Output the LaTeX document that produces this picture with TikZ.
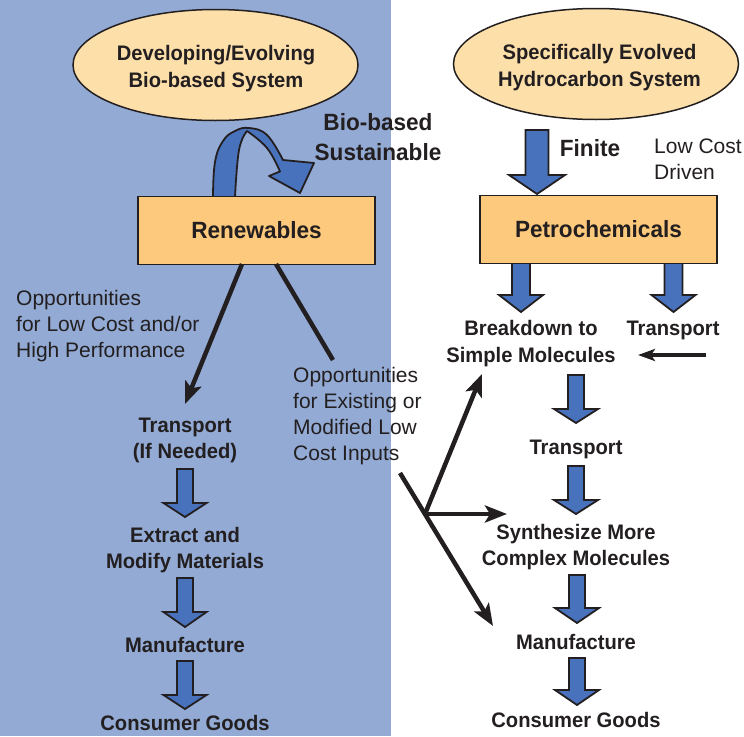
\documentclass[tikz,border=0pt]{standalone}
\usepackage{fontspec}
\setmainfont{Liberation Sans}
\newfontfamily\condf[FakeStretch=0.96]{Liberation Sans}
\usetikzlibrary{arrows.meta,shapes.geometric}
\definecolor{bgblue}{RGB}{146,170,212}
\definecolor{arrowblue}{RGB}{72,114,188}
\definecolor{boxfill}{RGB}{253,201,124}
\definecolor{peach}{RGB}{253,223,170}
\definecolor{ink}{RGB}{35,31,32}
\newcommand\blkarrow[6]{\filldraw[blk] (#1-#5,#2) -- (#1+#5,#2) -- (#1+#5,#3) -- (#1+#6,#3) -- (#1,#4) -- (#1-#6,#3) -- (#1-#5,#3) -- cycle;}
\begin{document}
\begin{tikzpicture}[x=1pt,y=-1pt,
  bt/.style={font=\condf\bfseries\fontsize{21}{26.5}\selectfont, text=ink, align=center, inner sep=0pt},
  bbig/.style={font=\condf\bfseries\fontsize{23.5}{30}\selectfont, text=ink, align=center, inner sep=0pt},
  rt/.style={font=\fontsize{21}{26}\selectfont, text=ink, align=left, inner sep=0pt, anchor=west},
  ell/.style={ellipse, draw=ink, line width=1.5pt, fill=peach, minimum width=285pt, minimum height=111pt, inner sep=0pt},
  boxn/.style={draw=ink, line width=1.8pt, fill=boxfill, minimum width=237pt, minimum height=68pt, inner sep=0pt, text=ink, font=\condf\bfseries\fontsize{23.5}{28}\selectfont},
  blk/.style={fill=arrowblue, draw=ink, line width=1.8pt, line join=miter},
  arr/.style={draw=ink, line width=4.5pt, -{Stealth[length=22pt,width=17pt,inset=5pt]}},
  plain/.style={draw=ink, line width=4.5pt},
  arrs/.style={draw=ink, line width=3.5pt, -{Stealth[length=17pt,width=12pt,inset=4pt]}}]
\useasboundingbox (0,0) rectangle (744,736);
\fill[bgblue] (0,0) rectangle (391,736);

% ellipses
\node[ell] (e1) at (215.5,65) {};
\node[bt] (e1t) at (216,68.5) {Developing/Evolving\\Bio-based System};
\node[ell] (e2) at (596,64) {};
\node[bt] (e2t) at (599.5,67.5) {Specifically Evolved\\Hydrocarbon System};

% curved arrow
\filldraw[blk, line join=round] plot[smooth, tension=0.7] coordinates {(213,197) (215,162) (223,141) (235,131) (249,128) (267,135) (283,160)}
  -- (314,163) -- (300,193) -- (269,176) -- (280,171.5)
  -- plot[smooth, tension=0.7] coordinates {(280,171.5) (267,148) (247,131)}
  -- plot[smooth, tension=0.7] coordinates {(247,131) (239,150) (235,197)} -- cycle;
\node[bbig] (bio) at (378,136.6) {Bio-based\\Sustainable};

% finite arrow
\blkarrow{537}{130}{175}{194}{11.5}{28}
\node[bbig] (fin) at (590,148) {Finite};
\node[rt] (lcd) at (654,158.8) {Low Cost\\Driven};

% petro down arrows
\blkarrow{521}{258}{295}{312}{9}{22}
\blkarrow{673.5}{258}{295}{312}{9}{22}

% boxes
\node[boxn] (ren) at (256.5,230.5) {Renewables};
\node[boxn] (pet) at (598.5,229.5) {Petrochemicals};

% left texts
\node[rt] (opp1) at (16,326) {Opportunities\\for Low Cost and/or\\High Performance};
\node[rt] (opp2) at (293,416.4) {Opportunities\\for Existing or\\Modified Low\\Cost Inputs};

% left column
\node[bt] (ltr) at (185,440.5) {Transport\\(If Needed)};
\node[bt] (lex) at (185,550) {Extract and\\Modify Materials};
\node[bt] (lma) at (185,645) {Manufacture};
\node[bt] (lcg) at (185,723) {Consumer Goods};
\blkarrow{185}{469}{503}{517}{8}{21.5}
\blkarrow{185}{578}{612}{627}{8}{21.5}
\blkarrow{185}{661}{695}{709}{8}{21.5}

% right column
\node[bt] (brk) at (531,343.5) {Breakdown to\\Simple Molecules};
\node[bt] (rtr0) at (673,330) {Transport};
\node[bt] (rtr) at (576,449) {Transport};
\node[bt] (syn) at (576,547) {Synthesize More\\Complex Molecules};
\node[bt] (rma) at (576,642) {Manufacture};
\node[bt] (rcg) at (576,720) {Consumer Goods};
\blkarrow{576}{375}{409}{423}{8}{22}
\blkarrow{576}{466}{500}{514}{8}{22}
\blkarrow{577}{575}{608}{623}{8}{22}
\blkarrow{577}{658}{690}{705}{8}{22}

% black connectors
\coordinate (r1) at (242,264);
\coordinate (r1e) at (185,404);
\coordinate (r2) at (276,264);
\coordinate (r2e) at (333,360);
\coordinate (ls) at (400,473);
\coordinate (j) at (425,514);
\coordinate (tup) at (482,374);
\coordinate (tright) at (507,514);
\coordinate (tdown) at (493,626);
\coordinate (sm1) at (706,355);
\coordinate (sm2) at (638,355);
\draw[arr] (r1) -- (r1e);
\draw[plain] (r2) -- (r2e);
\draw[arr] (ls) -- (tdown);
\draw[arr] (j) -- (tup);
\draw[arr] (j) -- (tright);
\draw[arrs] (sm1) -- (sm2);
\end{tikzpicture}
\end{document}
